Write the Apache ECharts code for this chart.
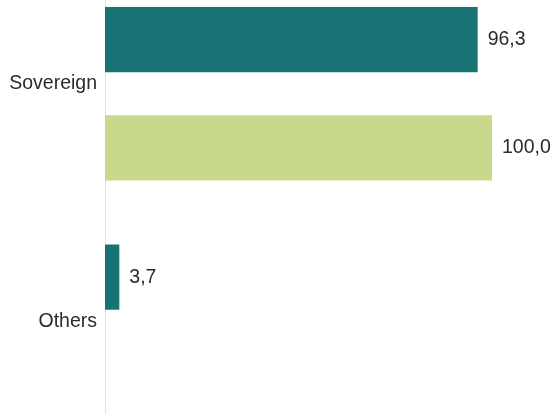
<!DOCTYPE html>
<html>
<head>
<meta charset="utf-8">
<script src="https://cdn.jsdelivr.net/npm/echarts@6/dist/echarts.min.js"></script>
<style>html,body{margin:0;padding:0;background:#fff;overflow:hidden;width:553px;height:414px}#c{position:absolute;left:0;top:-25px;width:553px;height:475px}</style>
</head>
<body>
<div id="c"></div>
<script>
var categories = ['Sovereign', 'Others'];
var seriesA = [96.3, 3.7];
var seriesB = [100.0, null];

var chart = echarts.init(document.getElementById('c'), null, {renderer: 'canvas'});
function fmt(p) { return p.value == null ? '' : Number(p.value).toFixed(1).replace('.', ','); }
var FONT = 'Liberation Sans, Arial, sans-serif';
var lbl = {show: true, position: 'right', distance: 10, color: '#2b2b2b', fontSize: 19.5, fontFamily: FONT, formatter: fmt};
chart.setOption({
  animation: false,
  grid: {left: 105, right: 61, top: 0, bottom: 0},
  xAxis: {type: 'value', min: 0, max: 100, show: false},
  yAxis: {
    type: 'category', data: categories, inverse: true,
    axisLine: {show: true, lineStyle: {color: '#e3e3e3', width: 1}},
    axisTick: {show: false},
    axisLabel: {color: '#2b2b2b', fontSize: 19.5, fontFamily: FONT, margin: 8, lineHeight: 20, verticalAlign: 'bottom'}
  },
  series: [
    {type: 'bar', data: seriesA, itemStyle: {color: '#187375'}, barGap: '66%', barCategoryGap: '27%', label: lbl},
    {type: 'bar', data: seriesB, itemStyle: {color: '#c8d98b'}, label: lbl}
  ]
});
</script>
</body>
</html>
